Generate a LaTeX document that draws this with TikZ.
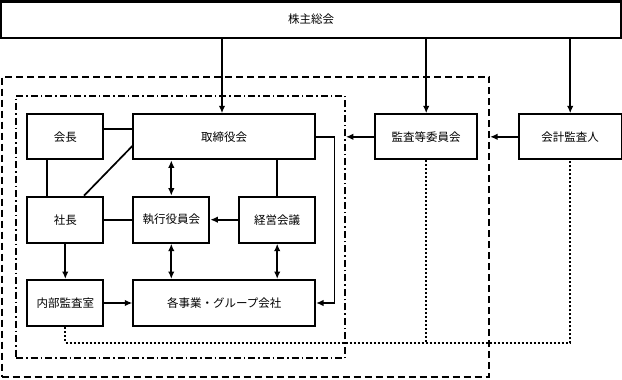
\documentclass[tikz,border=0pt]{standalone}
\usepackage{fontspec}
\setmainfont{Noto Sans CJK JP}
\usepackage{tikz}
\usetikzlibrary{arrows.meta}

\begin{document}
\begin{tikzpicture}[x=1pt,y=-1pt,>={Latex[length=7.5pt,width=6.5pt]},
  box/.style={draw,line width=2pt,inner sep=0pt,minimum height=45pt,font=\fontsize{11.5}{13}\selectfont},
  link/.style={line width=1.7pt},
  outerframe/.style={draw,line width=2pt,dash pattern=on 7pt off 4pt,inner sep=0pt},
  innerframe/.style={draw,line width=1.8pt,dash pattern=on 7pt off 3pt on 1.5pt off 3pt,inner sep=0pt},
  report/.style={line width=2pt,dash pattern=on 2pt off 2pt}]
\useasboundingbox (0,0) rectangle (622,380);
% frames
\node[outerframe,minimum width=487.5pt,minimum height=300pt] (outer) at (245.3,226.7) {};
\node[innerframe,minimum width=329pt,minimum height=262.6pt] (inner) at (180.5,227) {};
% boxes
\node[box,minimum width=620pt,minimum height=36pt] (soukai) at (311,19.5) {株主総会};
\node[box,minimum width=181.7pt] (torishimari) at (224.2,136.8) {取締役会};
\node[box,minimum width=76pt] (kaichou) at (65.3,136.8) {会長};
\node[box,minimum width=76pt,minimum height=46pt] (shachou) at (65.3,219.7) {社長};
\node[box,minimum width=76pt,minimum height=46pt] (shikkou) at (171.3,219.7) {執行役員会};
\node[box,minimum width=75.7pt,minimum height=46pt] (keiei) at (277.2,219.7) {経営会議};
\node[box,minimum width=76pt,minimum height=46pt] (naibu) at (65.3,303) {内部監査室};
\node[box,minimum width=181.7pt,minimum height=46pt] (kaku) at (224.2,303) {各事業・グループ会社};
\node[box,minimum width=102.3pt] (kansa) at (426.2,136.8) {監査等委員会};
\node[box,minimum width=103pt] (kaikei) at (570.2,136.8) {会計監査人};
% from the general meeting
\draw[link,->] (soukai.south -| 222,0) -- (222,0 |- torishimari.north);
\draw[link,->] (soukai.south -| kansa.north) -- (kansa.north);
\draw[link,->] (soukai.south -| kaikei.north) -- (kaikei.north);
\draw[link,->] (kansa.west) -- (kansa.west -| inner.east);
\draw[link,->] (kaikei.west) -- (kaikei.west -| outer.east);
% board and executives
\draw[link] ([yshift=7.5pt]kaichou.east) -- ([yshift=7.5pt]torishimari.west);
\draw[link] ([xshift=-18.6pt]kaichou.south) -- ([xshift=-18.6pt]shachou.north);
\draw[link] ([xshift=18.7pt]shachou.north) -- ([yshift=-9.2pt]torishimari.west);
\draw[link,<->] (shikkou.north |- torishimari.south) -- (shikkou.north);
\draw[link] (keiei.north) -- (keiei.north |- torishimari.south);
\draw[link,->] (keiei.west) -- (shikkou.east);
\draw[link] (shachou.east) -- (shikkou.west);
\draw[link,->] (shachou.south) -- (naibu.north);
\draw[link,->] (naibu.east) -- (kaku.west);
\draw[link,<->] (shikkou.south) -- (shikkou.south |- kaku.north);
\draw[link,<->] (keiei.south) -- (keiei.south |- kaku.north);
\draw[link,->] (torishimari.east) -- ++(18.3,0) |- (kaku.east);
% audit cooperation
\coordinate (dotline) at (0,342.7);
\draw[report] (naibu.south) -- (naibu.south |- dotline) -| (kaikei.south);
\draw[report] (kansa.south) -- (kansa.south |- dotline);
\end{tikzpicture}
\end{document}
